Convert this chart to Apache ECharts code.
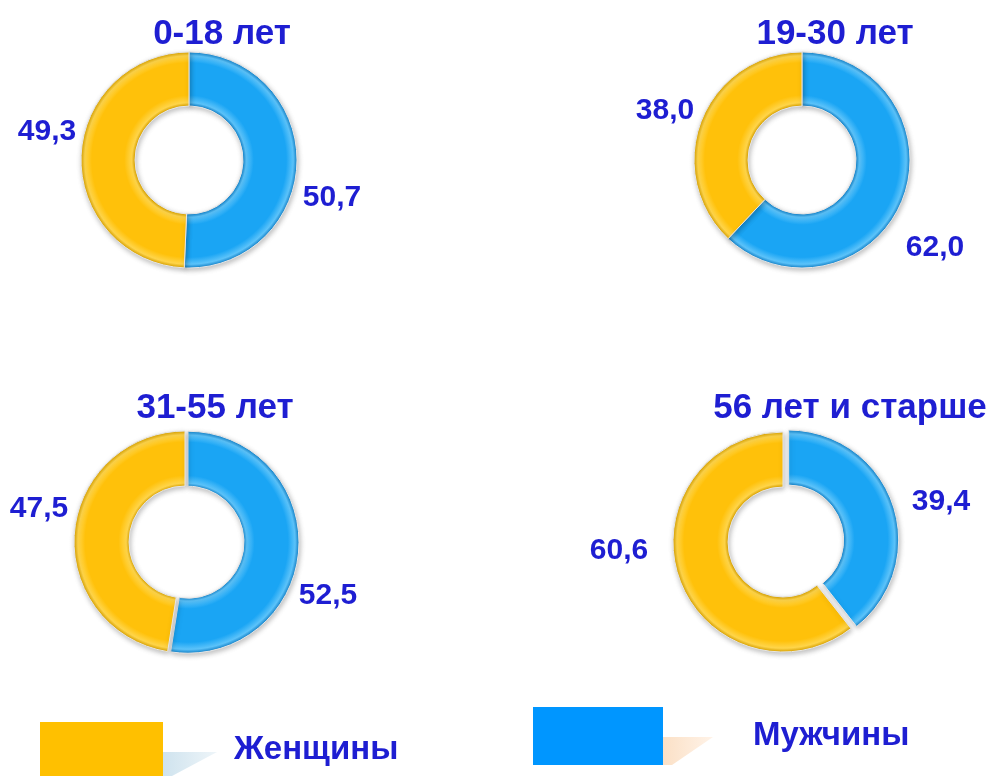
<!DOCTYPE html>
<html>
<head>
<meta charset="utf-8">
<script src="https://cdn.jsdelivr.net/npm/echarts@6/dist/echarts.min.js"></script>
<style>
html,body{margin:0;padding:0;background:#fff;}
#chart{width:990px;height:776px;}
</style>
</head>
<body>
<div id="chart"></div>
<script>
// ---- data ----
const groups = ['0-18 лет', '19-30 лет', '31-55 лет', '56 лет и старше'];
const seriesNames = ['Мужчины', 'Женщины'];
const men = [50.7, 62.0, 52.5, 39.4];
const women = [49.3, 38.0, 47.5, 60.6];

// ---- layout (px) ----
const centers = [[189, 160], [802, 160], [185, 542], [783, 542]];
const radii = [108, 108, 111, 110];
const titlePos = [[217, 12], [830, 12], [210, 386], [845, 386]];
// label centres: [men, women]
const labelPos = [
  [[332, 198], [47, 132]],
  [[935, 248], [665, 111]],
  [[328, 596], [39, 509]],
  [[941, 502], [619, 551]]
];
const menOffset = [0, 0, 3, 6];

const TEXT_BLUE = '#1e1ed2';
const FONT = '"Liberation Sans", Arial, sans-serif';
const BLUE = ['#1283cc', '#1aa5f4', '#5cc3fa'];
const GOLD = ['#dca400', '#ffc10a', '#ffd54a'];

function ring(cx, cy, r, pal) {
  const [dark, base, light] = pal;
  return {
    type: 'radial', x: cx, y: cy, r: r, global: true,
    colorStops: [
      {offset: 0, color: dark},
      {offset: 0.5, color: dark},
      {offset: 0.53, color: light},
      {offset: 0.6, color: base},
      {offset: 0.9, color: base},
      {offset: 0.965, color: light},
      {offset: 1, color: dark}
    ]
  };
}

const fmt = v => v.toFixed(1).replace('.', ',');
const hidden = {color: 'transparent', borderWidth: 0, shadowBlur: 0, shadowColor: 'transparent'};

const series = [];
groups.forEach((g, i) => {
  const R = radii[i];
  const frac = men[i] / (men[i] + women[i]);
  const mid = (90 - frac * 180) * Math.PI / 180;
  const shifted = [centers[i][0] + menOffset[i] * Math.cos(mid), centers[i][1] - menOffset[i] * Math.sin(mid)];
  // visible index 0 = men (on shifted centre), 1 = women (on base centre)
  [0, 1].forEach(vis => {
    const [cx, cy] = vis === 0 ? shifted : centers[i];
    const pal = vis === 0 ? BLUE : GOLD;
    const vals = [men[i], women[i]];
    series.push({
      type: 'pie',
      name: g,
      center: [cx, cy],
      radius: [Math.round(R * 0.5), R],
      startAngle: 90,
      clockwise: true,
      animation: false,
      silent: true,
      avoidLabelOverlap: false,
      emphasis: {disabled: true},
      itemStyle: {
        borderColor: '#e6e6e6', borderWidth: 1,
        shadowBlur: 5, shadowColor: 'rgba(0,0,0,0.25)', shadowOffsetX: 1, shadowOffsetY: 2
      },
      label: {
        show: true, position: 'outside', overflow: 'none', width: 120,
        formatter: p => fmt(p.value),
        fontFamily: FONT, fontWeight: 'bold', fontSize: 30, color: TEXT_BLUE
      },
      labelLine: {show: false},
      labelLayout: p => ({
        x: labelPos[i][p.dataIndex][0], y: labelPos[i][p.dataIndex][1],
        align: 'center', verticalAlign: 'middle', hideOverlap: false
      }),
      data: vals.map((v, k) => k === vis
        ? {name: seriesNames[k], value: v, itemStyle: {color: ring(cx, cy, R, pal)}}
        : {name: seriesNames[k], value: v, itemStyle: hidden, label: {show: false}})
    });
  });
});

const titles = groups.map((g, i) => ({
  text: g, left: titlePos[i][0], top: titlePos[i][1], textAlign: 'center',
  textStyle: {fontFamily: FONT, fontWeight: 'bold', fontSize: 35, color: TEXT_BLUE}
}));

const chart = echarts.init(document.getElementById('chart'), null, {renderer: 'canvas'});
chart.setOption({
  backgroundColor: '#fff',
  title: titles,
  legend: [
    {data: [{name: seriesNames[1], icon: 'rect', itemStyle: {color: '#ffc000', borderWidth: 0}}],
      left: 35, top: 717, itemWidth: 123, itemHeight: 56, selectedMode: false,
      textStyle: {fontFamily: FONT, fontWeight: 'bold', fontSize: 33, color: TEXT_BLUE, padding: [0, 0, 0, 66]}},
    {data: [{name: seriesNames[0], icon: 'rect', itemStyle: {color: '#0096ff', borderWidth: 0}}],
      left: 528, top: 702, itemWidth: 130, itemHeight: 58, selectedMode: false,
      textStyle: {fontFamily: FONT, fontWeight: 'bold', fontSize: 33, color: TEXT_BLUE, padding: [0, 0, 6, 85]}}
  ],
  graphic: [
    {type: 'polygon', z: -1, shape: {points: [[163, 752], [217, 752], [172, 776], [163, 776]]},
      style: {fill: {type: 'linear', x: 0, y: 0, x2: 1, y2: 0, colorStops: [{offset: 0, color: '#cfe3ee'}, {offset: 1, color: '#eef5f9'}]}}},
    {type: 'polygon', z: -1, shape: {points: [[663, 737], [713, 737], [672, 765], [663, 765]]},
      style: {fill: {type: 'linear', x: 0, y: 0, x2: 1, y2: 0, colorStops: [{offset: 0, color: '#fbe0c6'}, {offset: 1, color: '#fff3e8'}]}}}
  ],
  series: series
});
</script>
</body>
</html>
